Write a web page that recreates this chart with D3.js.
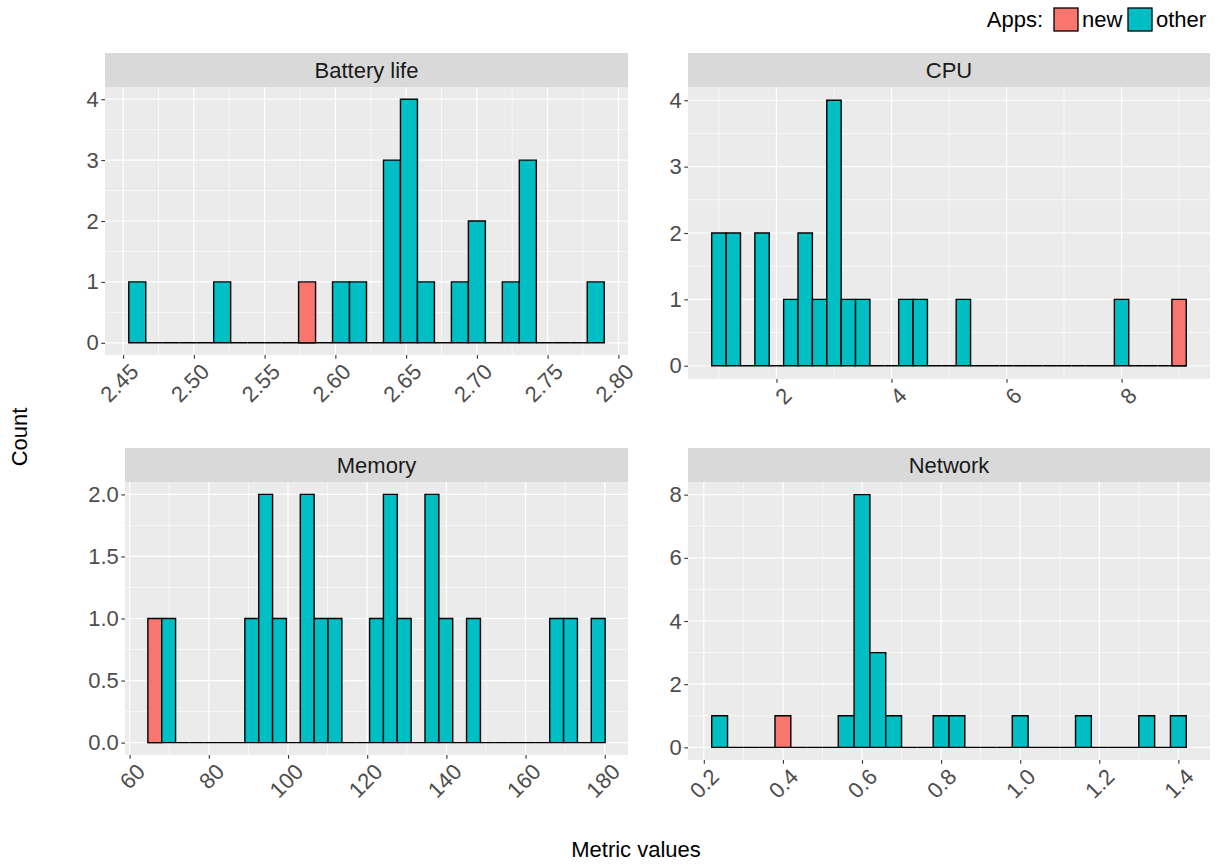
<!DOCTYPE html>
<html><head><meta charset="utf-8">
<script src="https://cdn.jsdelivr.net/npm/d3@7"></script>
<style>body{margin:0;background:#fff} text{font-family:"Liberation Sans",Arial,Helvetica,sans-serif}</style>
</head><body><svg id="c" width="1222" height="865"></svg>
<script>
// ---------- data ----------
const panelNames = ["Battery life", "CPU", "Memory", "Network"];
const binStart = [2.454, 0.875, 64.6, 0.22];
const binWidth = [0.012, 0.25, 3.5, 0.04];

const batteryOther = [1,0,0,0,0,1,0,0,0,0,0,0,1,1,0,3,4,1,0,1,2,0,1,3,0,0,0,1];
const batteryNew   = [0,0,0,0,0,0,0,0,0,0,1,0,0,0,0,0,0,0,0,0,0,0,0,0,0,0,0,0];
const cpuOther = [2,2,0,2,0,1,2,1,4,1,1,0,0,1,1,0,0,1,0,0,0,0,0,0,0,0,0,0,1,0,0,0,0];
const cpuNew   = [0,0,0,0,0,0,0,0,0,0,0,0,0,0,0,0,0,0,0,0,0,0,0,0,0,0,0,0,0,0,0,0,1];
const memoryOther = [0,1,0,0,0,0,0,1,2,1,0,2,1,1,0,0,1,2,1,0,2,1,0,1,0,0,0,0,0,1,1,0,1];
const memoryNew   = [1,0,0,0,0,0,0,0,0,0,0,0,0,0,0,0,0,0,0,0,0,0,0,0,0,0,0,0,0,0,0,0,0];
const networkOther = [1,0,0,0,0,0,0,0,1,8,3,1,0,0,1,1,0,0,0,1,0,0,0,1,0,0,0,1,0,1];
const networkNew   = [0,0,0,0,1,0,0,0,0,0,0,0,0,0,0,0,0,0,0,0,0,0,0,0,0,0,0,0,0,0];

const xTicks = [
  [2.45,2.50,2.55,2.60,2.65,2.70,2.75,2.80],
  [2,4,6,8],
  [60,80,100,120,140,160,180],
  [0.2,0.4,0.6,0.8,1.0,1.2,1.4]
];
const xTickLabels = [
  ["2.45","2.50","2.55","2.60","2.65","2.70","2.75","2.80"],
  ["2","4","6","8"],
  ["60","80","100","120","140","160","180"],
  ["0.2","0.4","0.6","0.8","1.0","1.2","1.4"]
];
const yTicks = [[0,1,2,3,4],[0,1,2,3,4],[0,0.5,1,1.5,2],[0,2,4,6,8]];
const yTickLabels = [["0","1","2","3","4"],["0","1","2","3","4"],["0.0","0.5","1.0","1.5","2.0"],["0","2","4","6","8"]];
const groups = ["new", "other"];
const groupColors = ["#F8766D", "#00BFC4"];

// ---------- layout ----------
const layout = [
  {x0:105, x1:628, stripTop:53, y0:87, y1:355},
  {x0:688, x1:1210, stripTop:53, y0:87, y1:379},
  {x0:125, x1:628, stripTop:448, y0:482, y1:755},
  {x0:688, x1:1210, stripTop:448, y0:482, y1:760}
];
const otherData = [batteryOther, cpuOther, memoryOther, networkOther];
const newData = [batteryNew, cpuNew, memoryNew, networkNew];

const FS = 22;
const svg = d3.select("#c");
const color = d3.scaleOrdinal().domain(groups).range(groupColors);

function minorTicks(major, dom){
  const step = major[1]-major[0];
  const out = [];
  for (let i=-1;i<major.length;i++){
    const v = major[0] + (i+0.5)*step;
    if (v>dom[0] && v<dom[1]) out.push(v);
  }
  return out;
}

panelNames.forEach((name, p) => {
  const L = layout[p];
  const oth = otherData[p], nw = newData[p];
  const n = oth.length;
  const lo = binStart[p], hi = binStart[p] + n*binWidth[p];
  const r = hi - lo;
  const counts = oth.map((o,i)=>o+nw[i]);
  const ymax = d3.max(counts);
  const x = d3.scaleLinear().domain([lo-0.05*r, hi+0.05*r]).range([L.x0, L.x1]);
  const y = d3.scaleLinear().domain([-0.05*ymax, 1.05*ymax]).range([L.y1, L.y0]);
  const g = svg.append("g");

  // strip
  g.append("rect").attr("x",L.x0).attr("y",L.stripTop).attr("width",L.x1-L.x0).attr("height",L.y0-L.stripTop).attr("fill","#D9D9D9");
  g.append("text").attr("x",(L.x0+L.x1)/2).attr("y",(L.stripTop+L.y0)/2).attr("dy","0.36em")
    .attr("text-anchor","middle").attr("font-size",FS).attr("fill","#1A1A1A").text(name);

  // panel
  g.append("rect").attr("x",L.x0).attr("y",L.y0).attr("width",L.x1-L.x0).attr("height",L.y1-L.y0).attr("fill","#EBEBEB");

  const yMinor = minorTicks(yTicks[p], y.domain());
  const xMinor = minorTicks(xTicks[p], x.domain());
  g.selectAll(".ymin").data(yMinor).join("line").attr("x1",L.x0).attr("x2",L.x1)
    .attr("y1",d=>y(d)).attr("y2",d=>y(d)).attr("stroke","#fff").attr("stroke-width",0.6);
  g.selectAll(".xmin").data(xMinor).join("line").attr("y1",L.y0).attr("y2",L.y1)
    .attr("x1",d=>x(d)).attr("x2",d=>x(d)).attr("stroke","#fff").attr("stroke-width",0.6);
  g.selectAll(".ymaj").data(yTicks[p]).join("line").attr("x1",L.x0).attr("x2",L.x1)
    .attr("y1",d=>y(d)).attr("y2",d=>y(d)).attr("stroke","#fff").attr("stroke-width",1.2);
  g.selectAll(".xmaj").data(xTicks[p]).join("line").attr("y1",L.y0).attr("y2",L.y1)
    .attr("x1",d=>x(d)).attr("x2",d=>x(d)).attr("stroke","#fff").attr("stroke-width",1.2);

  // bars (stacked: other at bottom, new on top)
  const bars = [];
  for (let i=0;i<n;i++){
    const b0 = lo + i*binWidth[p], b1 = b0 + binWidth[p];
    bars.push({g:"other", b0, b1, s:0, e:oth[i]});
    bars.push({g:"new", b0, b1, s:oth[i], e:oth[i]+nw[i]});
  }
  const barData = bars.filter(d => d.e>d.s || (d.e===0 && d.g==="other"));
  g.selectAll(".bar").data(barData).join("path")
    .attr("d", d => `M${x(d.b0)},${y(d.s)}H${x(d.b1)}V${y(d.e)}H${x(d.b0)}Z`)
    .attr("fill", d => color(d.g)).attr("stroke","#000").attr("stroke-width",1.4);

  // axes
  const ya = d3.axisLeft(y).tickValues(yTicks[p]).tickFormat((d,i)=>yTickLabels[p][i]).tickSize(3.7).tickPadding(2.5);
  const yg = g.append("g").attr("transform",`translate(${L.x0},0)`).call(ya);
  yg.select(".domain").remove();
  yg.selectAll("line").attr("stroke","#333").attr("stroke-width",1.1);
  yg.selectAll("text").attr("font-size",FS).attr("fill","#4D4D4D").attr("font-family",null);

  const xa = d3.axisBottom(x).tickValues(xTicks[p]).tickFormat((d,i)=>xTickLabels[p][i]).tickSize(3.7);
  const xg = g.append("g").attr("transform",`translate(0,${L.y1})`).call(xa);
  xg.select(".domain").remove();
  xg.selectAll("line").attr("stroke","#333").attr("stroke-width",1.1);
  xg.selectAll("text").attr("font-size",FS).attr("fill","#4D4D4D").attr("font-family",null)
    .attr("text-anchor","end").attr("y",0).attr("dy","0.72em")
    .attr("transform","translate(5,7) rotate(-45)");
});

// axis titles
svg.append("text").attr("x",636).attr("y",857).attr("text-anchor","middle").attr("font-size",FS).attr("fill","#000").text("Metric values");
svg.append("text").attr("transform","translate(27,437) rotate(-90)").attr("text-anchor","middle").attr("font-size",FS).attr("fill","#000").text("Count");

// legend
const lg = svg.append("g");
lg.append("text").attr("x",1043).attr("y",27).attr("text-anchor","end").attr("font-size",FS).attr("fill","#000").text("Apps:");
const keyX = [1054, 1128];
groups.forEach((k,i)=>{
  lg.append("rect").attr("x",keyX[i]).attr("y",8).attr("width",24).attr("height",23).attr("fill",color(k)).attr("stroke","#000").attr("stroke-width",1.3);
  lg.append("text").attr("x",keyX[i]+28).attr("y",27).attr("font-size",FS).attr("fill","#000").text(k);
});
</script></body></html>
